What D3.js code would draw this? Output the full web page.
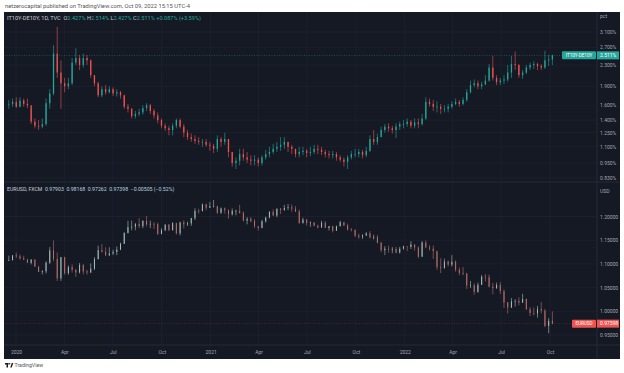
<!DOCTYPE html>
<html>
<head>
<meta charset="utf-8">
<script src="https://cdn.jsdelivr.net/npm/d3@7"></script>
<style>
  body { margin: 0; background: #fff; }
  svg { display: block; font-family: Roboto, "Liberation Sans", sans-serif; }
  .pre { white-space: pre; }
</style>
</head>
<body>
<svg id="chart" width="624" height="373"></svg>
<script>
// weekly candles, Dec 16 2019 .. Oct 3 2022 (open = previous close)
const spreadClose = [
  1.62,1.65,1.58,1.67,1.62,1.60,1.38,1.33,1.32,1.35,
  1.63,1.78,2.55,2.15,1.95,1.90,1.95,2.35,2.45,2.30,
  2.45,2.40,2.10,1.95,1.75,1.85,1.80,1.85,1.78,1.80,
  1.75,1.58,1.55,1.45,1.48,1.50,1.56,1.60,1.52,1.46,
  1.40,1.33,1.30,1.28,1.33,1.40,1.32,1.25,1.20,1.18,
  1.16,1.15,1.15,1.12,1.11,1.08,1.18,1.15,1.18,1.05,
  0.95,0.97,1.03,1.00,0.98,0.97,0.98,0.95,1.00,1.03,
  1.05,1.08,1.10,1.12,1.15,1.10,1.08,1.03,1.05,1.06,
  1.04,1.05,1.08,1.07,1.05,1.03,1.02,1.03,1.00,0.98,
  0.96,1.00,1.03,1.03,1.05,1.02,1.06,1.18,1.15,1.20,
  1.28,1.32,1.30,1.28,1.32,1.35,1.35,1.38,1.33,1.37,
  1.35,1.42,1.65,1.62,1.58,1.58,1.55,1.55,1.58,1.62,
  1.65,1.62,1.68,1.80,1.92,1.95,1.90,1.93,2.00,2.25,
  2.05,1.97,2.00,2.02,2.15,2.32,2.30,2.10,2.15,2.25,
  2.30,2.32,2.28,2.25,2.40,2.42,2.511
]
const spreadHigh = [
  1.68,1.70,1.72,1.72,1.70,1.70,1.55,1.42,1.40,1.42,
  1.70,1.85,2.75,3.25,2.40,2.05,2.05,2.45,2.68,2.52,
  2.55,2.52,2.42,2.10,1.98,1.90,1.92,1.90,1.88,1.85,
  1.82,1.76,1.62,1.56,1.52,1.55,1.60,1.63,1.62,1.55,
  1.50,1.42,1.36,1.33,1.36,1.42,1.42,1.35,1.28,1.24,
  1.22,1.20,1.18,1.18,1.15,1.13,1.22,1.20,1.25,1.18,
  1.05,1.00,1.08,1.08,1.05,1.02,1.02,1.00,1.02,1.07,
  1.10,1.13,1.15,1.20,1.20,1.15,1.12,1.08,1.10,1.10,
  1.08,1.10,1.12,1.12,1.10,1.07,1.06,1.06,1.05,1.02,
  1.00,1.02,1.06,1.08,1.08,1.07,1.10,1.22,1.28,1.24,
  1.32,1.35,1.36,1.33,1.36,1.38,1.40,1.42,1.40,1.42,
  1.42,1.48,1.72,1.70,1.68,1.66,1.62,1.60,1.62,1.66,
  1.70,1.68,1.72,1.85,2.00,2.02,2.00,1.98,2.10,2.32,
  2.50,2.10,2.05,2.10,2.30,2.50,2.60,2.32,2.20,2.30,
  2.35,2.38,2.35,2.32,2.62,2.52,2.53
]
const spreadLow = [
  1.55,1.58,1.56,1.57,1.58,1.56,1.35,1.30,1.28,1.30,
  1.33,1.55,1.75,2.05,1.55,1.80,1.85,1.92,2.30,2.20,
  2.25,2.30,2.05,1.90,1.72,1.72,1.76,1.78,1.74,1.73,
  1.70,1.55,1.50,1.42,1.42,1.45,1.47,1.52,1.48,1.42,
  1.36,1.30,1.27,1.22,1.22,1.30,1.30,1.20,1.17,1.15,
  1.13,1.12,1.10,1.10,1.06,1.04,1.05,1.10,1.12,1.00,
  0.92,0.90,0.93,0.97,0.95,0.93,0.93,0.92,0.93,0.98,
  1.00,1.03,1.05,1.06,1.08,1.05,1.03,1.00,1.00,1.02,
  1.00,1.01,1.03,1.03,1.02,1.00,0.99,0.99,0.97,0.96,
  0.92,0.90,0.98,1.00,1.00,0.99,1.00,1.05,1.12,1.12,
  1.20,1.25,1.26,1.24,1.19,1.28,1.30,1.32,1.30,1.30,
  1.30,1.33,1.40,1.58,1.52,1.50,1.48,1.50,1.50,1.55,
  1.60,1.58,1.60,1.65,1.78,1.88,1.85,1.85,1.92,1.98,
  2.00,1.92,1.92,1.94,1.98,2.05,2.20,2.05,2.03,2.12,
  2.20,2.22,2.20,2.20,2.22,2.28,2.30
]

const eurClose = [
  1.1080,1.1177,1.1160,1.1120,1.1090,1.1025,1.1093,1.0943,1.0830,1.0845,
  1.1025,1.1285,1.1105,1.0695,1.1140,1.0805,1.0935,1.0875,1.0820,1.0980,
  1.0840,1.0820,1.0900,1.1100,1.1290,1.1255,1.1180,1.1220,1.1250,1.1300,
  1.1425,1.1655,1.1775,1.1785,1.1840,1.1795,1.1905,1.1835,1.1845,1.1840,
  1.1630,1.1715,1.1830,1.1715,1.1860,1.1645,1.1875,1.1835,1.1855,1.1965,
  1.2120,1.2110,1.2255,1.2185,1.2215,1.2220,1.2080,1.2170,1.2135,1.2045,
  1.2120,1.2120,1.2075,1.1915,1.1950,1.1905,1.1795,1.1760,1.1900,1.1980,
  1.2095,1.2020,1.2165,1.2140,1.2180,1.2195,1.2165,1.2105,1.1865,1.1935,
  1.1865,1.1875,1.1805,1.1770,1.1870,1.1760,1.1795,1.1700,1.1795,1.1880,
  1.1810,1.1725,1.1720,1.1595,1.1570,1.1600,1.1645,1.1560,1.1565,1.1445,
  1.1290,1.1320,1.1315,1.1315,1.1240,1.1320,1.1370,1.1360,1.1410,1.1345,
  1.1150,1.1450,1.1350,1.1320,1.1270,1.0930,1.0910,1.1050,1.0985,1.1045,
  1.0875,1.0810,1.0795,1.0545,1.0550,1.0410,1.0560,1.0730,1.0720,1.0520,
  1.0495,1.0555,1.0425,1.0185,1.0080,1.0210,1.0220,1.0185,1.0260,1.0040,
  0.9965,0.9955,1.0045,1.0015,0.9690,0.9800,0.97398
]
const eurHigh = [
  1.1175,1.1187,1.1239,1.1200,1.1173,1.1110,1.1095,1.1095,1.0950,1.0865,
  1.1055,1.1355,1.1495,1.1240,1.1147,1.1150,1.0968,1.0990,1.0890,1.1020,
  1.0990,1.0875,1.1010,1.1145,1.1385,1.1420,1.1350,1.1350,1.1300,1.1370,
  1.1450,1.1665,1.1910,1.1915,1.1865,1.1965,1.1925,1.2011,1.1915,1.1880,
  1.1870,1.1755,1.1835,1.1840,1.1880,1.1870,1.1890,1.1920,1.1890,1.1970,
  1.2175,1.2165,1.2275,1.2270,1.2310,1.2349,1.2225,1.2190,1.2190,1.2150,
  1.2170,1.2145,1.2245,1.2110,1.1990,1.1990,1.1945,1.1800,1.1930,1.1995,
  1.2115,1.2150,1.2170,1.2180,1.2245,1.2265,1.2255,1.2220,1.2145,1.1975,
  1.1940,1.1895,1.1880,1.1830,1.1910,1.1900,1.1800,1.1805,1.1810,1.1910,
  1.1885,1.1850,1.1755,1.1725,1.1640,1.1625,1.1670,1.1690,1.1615,1.1610,
  1.1465,1.1375,1.1385,1.1355,1.1360,1.1360,1.1385,1.1365,1.1480,1.1410,
  1.1370,1.1485,1.1495,1.1395,1.1390,1.1280,1.1120,1.1110,1.1070,1.1185,
  1.1075,1.0925,1.0935,1.0810,1.0640,1.0590,1.0605,1.0765,1.0785,1.0775,
  1.0600,1.0605,1.0615,1.0465,1.0200,1.0280,1.0255,1.0295,1.0368,1.0270,
  1.0090,1.0080,1.0115,1.0195,1.0050,0.9855,0.9999
]
const eurLow = [
  1.1065,1.1070,1.1125,1.1085,1.1087,1.1020,1.0990,1.0940,1.0827,1.0778,
  1.0800,1.1000,1.1055,1.0636,1.0640,1.0770,1.0770,1.0815,1.0727,1.0800,
  1.0780,1.0775,1.0805,1.0870,1.1095,1.1240,1.1170,1.1170,1.1185,1.1185,
  1.1290,1.1420,1.1640,1.1710,1.1710,1.1755,1.1755,1.1790,1.1755,1.1735,
  1.1612,1.1625,1.1690,1.1690,1.1700,1.1620,1.1600,1.1745,1.1800,1.1800,
  1.1925,1.2060,1.2115,1.2130,1.2180,1.2190,1.2055,1.2055,1.2060,1.1952,
  1.2020,1.2025,1.2060,1.1895,1.1835,1.1875,1.1760,1.1704,1.1750,1.1870,
  1.1960,1.2015,1.1985,1.2050,1.2120,1.2135,1.2100,1.2095,1.1845,1.1850,
  1.1810,1.1780,1.1795,1.1750,1.1760,1.1755,1.1705,1.1665,1.1700,1.1790,
  1.1800,1.1705,1.1685,1.1565,1.1530,1.1525,1.1585,1.1535,1.1515,1.1435,
  1.1250,1.1185,1.1235,1.1225,1.1220,1.1220,1.1300,1.1270,1.1315,1.1280,
  1.1121,1.1150,1.1330,1.1280,1.1105,1.0880,1.0806,1.0900,1.0945,1.0945,
  1.0835,1.0760,1.0760,1.0470,1.0490,1.0350,1.0390,1.0555,1.0630,1.0505,
  1.0360,1.0470,1.0365,1.0070,0.9952,1.0070,1.0100,1.0125,1.0175,1.0035,
  0.9900,0.9910,0.9865,0.9955,0.9665,0.9536,0.9726
]

const spreadTicks = [0.83, 0.95, 1.1, 1.25, 1.4, 1.6, 1.9, 2.3, 2.7, 3.1]
const eurTicks = [0.95, 1.0, 1.05, 1.1, 1.15, 1.2]
const monthTicks = [
  new Date(2020, 0, 1), new Date(2020, 3, 1), new Date(2020, 6, 1), new Date(2020, 9, 1),
  new Date(2021, 0, 1), new Date(2021, 3, 1), new Date(2021, 6, 1), new Date(2021, 9, 1),
  new Date(2022, 0, 1), new Date(2022, 3, 1), new Date(2022, 6, 1), new Date(2022, 9, 1)
]
const monthLabels = ['2020', 'Apr', 'Jul', 'Oct', '2021', 'Apr', 'Jul', 'Oct', '2022', 'Apr', 'Jul', 'Oct']

const weeks = d3.timeMonday.range(new Date(2019, 11, 16), new Date(2022, 9, 4))

const UP = '#26a69a', DOWN = '#ef5350'
const BG = '#151924', GRID = '#1f2330', LINE = '#2a2e39', TXT = '#a3a6af'

const left = 4, right = 620, plotRight = 597
const topPane = [12, 182], botPane = [182, 345], bottom = 359

const svg = d3.select('#chart')

svg.append('text').attr('x', 5).attr('y', 7.5)
  .attr('font-size', 5.8).attr('fill', '#555')
  .text('netzerocapital published on TradingView.com, Oct 09, 2022 15:15 UTC-4')

svg.append('rect').attr('x', left).attr('y', topPane[0])
  .attr('width', right - left).attr('height', bottom - topPane[0]).attr('fill', BG)

const x = d3.scaleTime()
  .domain([new Date(2020, 0, 1), new Date(2022, 9, 1)])
  .range([16, 550])
const yTop = d3.scaleLog().domain([0.83, 3.1]).range([178, 32])
const yBot = d3.scaleLinear().domain([0.95, 1.20]).range([335, 216.5])

// grid
const grid = svg.append('g').attr('stroke', GRID).attr('stroke-width', 0.7)
grid.selectAll('.vg').data(monthTicks).enter().append('line')
  .attr('x1', d => x(d)).attr('x2', d => x(d))
  .attr('y1', topPane[0]).attr('y2', botPane[1])
grid.selectAll('.hgt').data(spreadTicks).enter().append('line')
  .attr('x1', left).attr('x2', plotRight)
  .attr('y1', d => yTop(d)).attr('y2', d => yTop(d))
grid.selectAll('.hgb').data(eurTicks).enter().append('line')
  .attr('x1', left).attr('x2', plotRight)
  .attr('y1', d => yBot(d)).attr('y2', d => yBot(d))

const defs = svg.append('defs')
defs.append('clipPath').attr('id', 'clipTop').append('rect')
  .attr('x', left).attr('y', topPane[0]).attr('width', plotRight - left).attr('height', topPane[1] - topPane[0])
defs.append('clipPath').attr('id', 'clipBot').append('rect')
  .attr('x', left).attr('y', botPane[0]).attr('width', plotRight - left).attr('height', botPane[1] - botPane[0])

const toCandles = (close, high, low) => weeks.map((w, i) => ({
  date: d3.timeHour.offset(w, 60),
  o: i ? close[i - 1] : close[0],
  c: close[i], h: high[i], l: low[i]
}))

function drawCandles (data, y, clip, up, down, bw) {
  const g = svg.append('g').attr('clip-path', `url(#${clip})`)
  const c = g.selectAll('g').data(data).enter().append('g')
  c.append('line')
    .attr('x1', d => x(d.date)).attr('x2', d => x(d.date))
    .attr('y1', d => y(d.h)).attr('y2', d => y(d.l))
    .attr('stroke', d => d.c >= d.o ? up : down).attr('stroke-width', 0.6)
  c.append('rect')
    .attr('x', d => x(d.date) - bw / 2).attr('width', bw)
    .attr('y', d => y(Math.max(d.o, d.c)))
    .attr('height', d => Math.max(0.7, Math.abs(y(d.o) - y(d.c))))
    .attr('fill', d => d.c >= d.o ? up : down)
  return g
}

const spread = toCandles(spreadClose, spreadHigh, spreadLow)
const eur = toCandles(eurClose, eurHigh, eurLow)

// last price lines
const lastS = spreadClose[spreadClose.length - 1]
const lastE = eurClose[eurClose.length - 1]
svg.append('line').attr('x1', left).attr('x2', plotRight)
  .attr('y1', yTop(lastS)).attr('y2', yTop(lastS))
  .attr('stroke', UP).attr('stroke-width', 0.6).attr('stroke-dasharray', '1,1.5').attr('opacity', 0.7)
svg.append('line').attr('x1', left).attr('x2', plotRight)
  .attr('y1', yBot(lastE)).attr('y2', yBot(lastE))
  .attr('stroke', DOWN).attr('stroke-width', 0.6).attr('stroke-dasharray', '1,1.5').attr('opacity', 0.4)

drawCandles(spread, yTop, 'clipTop', UP, DOWN, 1.3)
drawCandles(eur, yBot, 'clipBot', '#a3bdb8', '#b86e6a', 1.0)

// pane borders
const borders = svg.append('g').attr('stroke', LINE).attr('stroke-width', 0.8)
borders.append('line').attr('x1', left).attr('x2', right).attr('y1', topPane[1]).attr('y2', topPane[1])
borders.append('line').attr('x1', left).attr('x2', right).attr('y1', botPane[1]).attr('y2', botPane[1])
borders.append('line').attr('x1', plotRight).attr('x2', plotRight).attr('y1', topPane[0]).attr('y2', bottom)

// price axes
const styleAxis = g => {
  g.select('.domain').remove()
  g.selectAll('.tick line').remove()
  g.selectAll('text').attr('fill', TXT).attr('font-size', 5).attr('font-family', 'Roboto, sans-serif')
}
svg.append('g').attr('transform', `translate(${plotRight},0)`)
  .call(d3.axisRight(yTop).tickValues(spreadTicks).tickSize(0).tickPadding(3)
    .tickFormat(d => d3.format('.3f')(d) + '%'))
  .call(styleAxis)
svg.append('g').attr('transform', `translate(${plotRight},0)`)
  .call(d3.axisRight(yBot).tickValues(eurTicks).tickSize(0).tickPadding(3)
    .tickFormat(d3.format('.5f')))
  .call(styleAxis)
svg.append('text').attr('x', plotRight + 3).attr('y', 18).attr('font-size', 5).attr('fill', TXT).text('pct')
svg.append('text').attr('x', plotRight + 3).attr('y', 192.5).attr('font-size', 5).attr('fill', TXT).text('USD')

// time axis
svg.append('g').attr('transform', `translate(0,${botPane[1]})`)
  .call(d3.axisBottom(x).tickValues(monthTicks).tickSize(0).tickPadding(5)
    .tickFormat((d, i) => monthLabels[i]))
  .call(styleAxis)

// price badges
function badge (y, label, value, color, lx) {
  const g = svg.append('g')
  g.append('rect').attr('x', lx).attr('y', y - 4).attr('width', plotRight - lx - 1).attr('height', 8)
    .attr('fill', color).attr('rx', 1)
  g.append('text').attr('x', (lx + plotRight - 1) / 2).attr('y', y + 1.7).attr('text-anchor', 'middle')
    .attr('font-size', 4.6).attr('fill', '#fff').text(label)
  g.append('rect').attr('x', plotRight).attr('y', y - 4).attr('width', right - plotRight - 1).attr('height', 8)
    .attr('fill', color)
  g.append('text').attr('x', plotRight + 3).attr('y', y + 1.7)
    .attr('font-size', 5).attr('fill', '#fff').text(value)
}
badge(yTop(lastS), 'IT10Y-DE10Y', d3.format('.3f')(lastS) + '%', UP, 562)
badge(yBot(lastE), 'EURUSD', d3.format('.5f')(lastE), DOWN, 572)

// legends
const legTop = svg.append('text').attr('class', 'pre').attr('x', 7).attr('y', 19.5)
  .attr('font-size', 5.6).attr('fill', '#c9ccd4')
legTop.append('tspan').text('IT10Y-DE10Y, 1D, TVC  ')
;[['O', '2.427%'], ['H', '2.514%'], ['L', '2.427%'], ['C', '2.511%']].forEach(([k, v]) => {
  legTop.append('tspan').text(k)
  legTop.append('tspan').attr('fill', UP).text(v + ' ')
})
legTop.append('tspan').attr('fill', UP).text('+0.087% (+3.59%)')

const legBot = svg.append('text').attr('class', 'pre').attr('x', 7).attr('y', 190.5)
  .attr('font-size', 5.2).attr('fill', '#c9ccd4')
legBot.append('tspan').text('EURUSD, FXCM  ')
legBot.append('tspan').attr('fill', '#b8d4e0').text('0.97903  0.98168  0.97262  0.97398  \u22120.00505 (\u22120.52%)')

// footer
const logo = svg.append('g').attr('fill', '#1b1b1b')
logo.append('rect').attr('x', 5).attr('y', 363).attr('width', 3.6).attr('height', 1.5)
logo.append('rect').attr('x', 6.5).attr('y', 363).attr('width', 1.5).attr('height', 4.5)
logo.append('circle').attr('cx', 9.6).attr('cy', 363.8).attr('r', 0.8)
logo.append('path').attr('d', 'M10.2,367.5 L11.8,363 L13.3,363 L11.7,367.5 Z')
svg.append('text').attr('x', 14.5).attr('y', 367.3).attr('font-size', 5.2).attr('fill', '#555').text('TradingView')
</script>
</body>
</html>
